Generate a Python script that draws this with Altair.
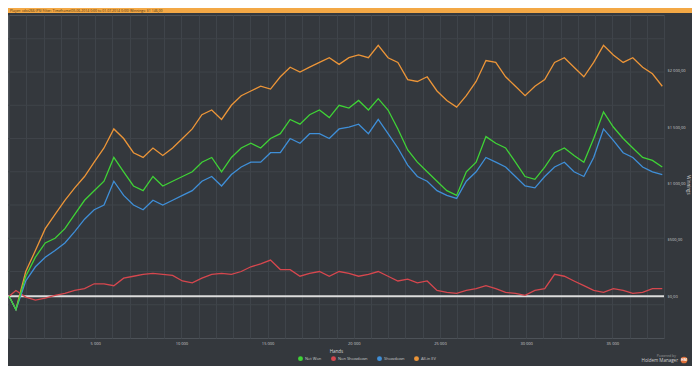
import altair as alt
import pandas as pd

hands = [0, 400, 970, 1530, 2100, 2670, 3240, 3810, 4380, 4940, 5510, 6080, 6650, 7220, 7780, 8350,
         8920, 9490, 10060, 10630, 11190, 11760, 12330, 12900, 13470, 14030, 14600, 15170, 15740,
         16310, 16880, 17440, 18010, 18580, 19150, 19720, 20280, 20850, 21420, 21990, 22560, 23130,
         23690, 24260, 24830, 25400, 25970, 26530, 27100, 27670, 28240, 28810, 29380, 29940, 30510,
         31080, 31650, 32220, 32780, 33350, 33920, 34490, 35060, 35630, 36190, 36760, 37330, 37900]

net_won = [0, -118, 177, 346, 472, 514, 599, 725, 851, 936, 1020, 1231, 1104, 978, 936, 1062, 978,
           1020, 1062, 1104, 1189, 1231, 1104, 1231, 1315, 1357, 1315, 1399, 1442, 1568, 1526, 1610,
           1652, 1585, 1694, 1669, 1737, 1652, 1753, 1652, 1484, 1298, 1189, 1104, 1020, 936, 894,
           1104, 1189, 1416, 1357, 1315, 1189, 1062, 1037, 1146, 1273, 1315, 1248, 1189, 1399, 1635,
           1501, 1399, 1315, 1231, 1205, 1146]

non_showdown = [0, 51, -8, -34, -17, 8, 25, 51, 67, 110, 110, 93, 160, 177, 194, 202, 194, 185, 135,
                118, 160, 194, 202, 194, 219, 261, 287, 320, 236, 236, 177, 202, 219, 177, 219, 202,
                177, 194, 219, 177, 135, 152, 118, 135, 51, 34, 25, 51, 67, 93, 67, 34, 25, 8, 51, 67,
                194, 177, 135, 93, 51, 34, 67, 51, 25, 34, 67, 67]

showdown = [0, -118, 135, 261, 346, 405, 472, 573, 683, 767, 809, 1020, 894, 809, 767, 851, 809, 851,
            894, 936, 1020, 1062, 978, 1079, 1146, 1189, 1189, 1273, 1273, 1399, 1357, 1442, 1442,
            1399, 1484, 1501, 1526, 1442, 1568, 1442, 1315, 1163, 1062, 1020, 936, 894, 868, 1020,
            1104, 1231, 1189, 1146, 1062, 978, 961, 1062, 1146, 1189, 1104, 1062, 1231, 1484, 1383,
            1273, 1231, 1146, 1104, 1079]

allin_ev = [0, -118, 219, 405, 599, 725, 851, 961, 1062, 1189, 1315, 1484, 1399, 1273, 1231, 1315,
            1248, 1315, 1399, 1484, 1610, 1652, 1568, 1694, 1779, 1821, 1863, 1838, 1947, 2032, 1989,
            2032, 2074, 2116, 2057, 2116, 2141, 2116, 2226, 2116, 2074, 1922, 1905, 1947, 1821, 1737,
            1678, 1779, 1905, 2091, 2074, 1947, 1863, 1779, 1863, 1922, 2074, 2116, 2032, 1947, 2074,
            2226, 2141, 2074, 2116, 2032, 1973, 1863]

series_names = ["Net Won", "Non Showdown", "Showdown", "All-in EV"]
series_colors = ["#3fd236", "#d6474e", "#3f8fd8", "#ec9538"]
draw_order = ["All-in EV", "Non Showdown", "Showdown", "Net Won"]
series_values = {"Net Won": net_won, "Non Showdown": non_showdown,
                 "Showdown": showdown, "All-in EV": allin_ev}

y_label_values = [0, 500, 1000, 1500, 2000]
x_tick_values = list(range(0, 38001, 1000))
h_grid_values = [-76, 219, 514, 809, 1104, 1399, 1694, 1989, 2284]

header_text = ("Player: cdst266 (PS) Filter: Timeframe(05.06.2014 0:00 to 01.07.2014 0:00) "
               "Winnings: $1 146,00")

rows = []
for name in draw_order:
    for i, (h, v) in enumerate(zip(hands, series_values[name])):
        rows.append({"series": name, "hands": h, "winnings": v, "idx": i})
df = pd.DataFrame(rows)

BG = "#34383d"
GRID = "#3f444a"
TXT = "#c9c9c9"

x_scale = alt.Scale(domain=[-60, 38000], nice=False, zero=False)
y_scale = alt.Scale(domain=[-371, 2495], nice=False, zero=False)

x_axis = alt.Axis(values=x_tick_values,
                  labelExpr="datum.value % 5000 == 0 && datum.value > 0 ? replace(format(datum.value, ','), ',', ' ') : ''",
                  grid=True, gridColor=GRID, gridWidth=1, ticks=False, domain=False,
                  labelFontSize=4, labelColor=TXT, labelPadding=3, labelOverlap=False,
                  labelFlush=False, labelFont="Open Sans",
                  title="Hands", titleFontSize=4.5, titleColor="#d5d5d5", titlePadding=3,
                  titleFontWeight="normal", titleFont="Open Sans")
y_axis = alt.Axis(orient="right", values=y_label_values,
                  labelExpr="'$' + replace(replace(format(datum.value, ',.2f'), ',', ' '), '.', ',')",
                  grid=False, ticks=False, domain=False, labelFontSize=4, labelColor=TXT,
                  labelPadding=3, labelFont="Open Sans", title=None)

def xenc(field):
    return alt.X(f"{field}:Q", scale=x_scale, axis=x_axis)

def yenc(field):
    return alt.Y(f"{field}:Q", scale=y_scale, axis=y_axis)

hgrid = alt.Chart(pd.DataFrame({"winnings": h_grid_values})).mark_rule(
    color=GRID, strokeWidth=1).encode(y=yenc("winnings"))

zero_line = alt.Chart(pd.DataFrame({"winnings": [0]})).mark_rule(
    color="#dcdcdc", strokeWidth=2).encode(y=yenc("winnings"))

lines = alt.Chart(df).mark_line(strokeWidth=1.3, clip=True).encode(
    x=xenc("hands"),
    y=yenc("winnings"),
    color=alt.Color("series:N",
                    scale=alt.Scale(domain=series_names, range=series_colors),
                    legend=alt.Legend(orient="none", legendX=290, legendY=341,
                                      direction="horizontal", title=None,
                                      symbolType="circle", symbolSize=6,
                                      symbolStrokeWidth=2.5, labelFontSize=4,
                                      labelColor=TXT, labelFont="Open Sans",
                                      columnPadding=5, labelOffset=2)),
    detail="series:N",
    order="idx:Q",
)

one = pd.DataFrame({"a": [0]})

header_bar = alt.Chart(one).mark_rect(color="#f3a845").encode(
    x=alt.value(0), x2=alt.value(684), y=alt.value(-7), y2=alt.value(-2))

header = alt.Chart(one).mark_text(align="left", baseline="middle", fontSize=3.5,
                                  color="#4a3210", font="Open Sans").encode(
    x=alt.value(2), y=alt.value(-4.5), text=alt.value(header_text))

y_title = alt.Chart(one).mark_text(angle=90, align="center", baseline="middle", fontSize=4.5,
                                   color="#d5d5d5", font="Open Sans").encode(
    x=alt.value(680), y=alt.value(170), text=alt.value("Winnings"))

powered = alt.Chart(one).mark_text(align="right", baseline="middle", fontSize=3.5,
                                   color="#9a9a9a", font="Open Sans").encode(
    x=alt.value(668), y=alt.value(341), text=alt.value("Powered by"))

hm_text = alt.Chart(one).mark_text(align="right", baseline="middle", fontSize=4.5,
                                   color="#d0d0d0", font="Open Sans").encode(
    x=alt.value(670), y=alt.value(346), text=alt.value("Holdem Manager"))

logo = alt.Chart(one).mark_point(filled=True, shape="circle", size=45, color="#e0703a",
                                 opacity=1).encode(
    x=alt.value(676), y=alt.value(345))

logo_txt = alt.Chart(one).mark_text(align="center", baseline="middle", fontSize=3.5,
                                    color="#ffffff", font="Open Sans", fontWeight="bold").encode(
    x=alt.value(676), y=alt.value(345), text=alt.value("HM"))

chart = alt.layer(
    hgrid, zero_line, lines, header_bar, header, y_title, powered, hm_text, logo, logo_txt
).properties(
    width=656, height=323,
    autosize=alt.AutoSizeParams(type="none"),
    padding={"left": 0, "top": 7, "right": 28, "bottom": 28},
    background=BG,
).configure_view(stroke="#4d5258", strokeWidth=1)

chart.save("out.html", embed_options={"renderer": "svg", "actions": False})
